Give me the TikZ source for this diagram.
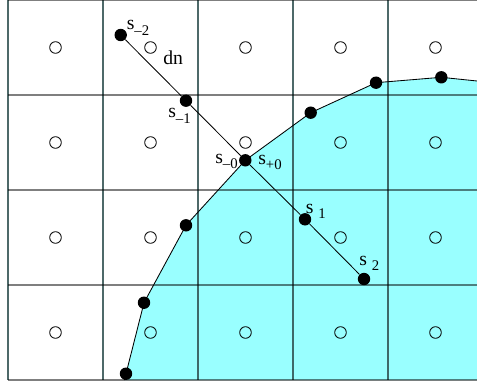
\documentclass[tikz,border=0pt]{standalone}
\usepackage{fontspec}
\setmainfont{Liberation Serif}
\definecolor{gridcol}{RGB}{47,79,79}
\definecolor{inside}{RGB}{153,255,255}
\newcommand{\lo}[1]{\raisebox{-0.3em}{\fontsize{10.5}{12}\selectfont #1}}
\begin{document}
\begin{tikzpicture}[x=0.25mm, y=-0.25mm,
  vline/.style={gridcol, opacity=0.85, line width=1pt},
  hline/.style={black, opacity=0.5, line width=1pt},
  cell/.style={circle, draw=black, fill=none, line width=0.6pt, inner sep=0pt, minimum size=2.9mm},
  sv/.style={circle, fill=black, inner sep=0pt, minimum size=3.1mm},
  bd/.style={black, line width=0.6pt},
  lab/.style={font=\fontsize{14}{16}\selectfont, inner sep=0pt, anchor=base west}]
\useasboundingbox (0,0) rectangle (477,383);
% boundary points
\coordinate (cbot) at (124.5,380);
\coordinate (c1) at (126,373.7);
\coordinate (c2) at (144,302.7);
\coordinate (c3) at (186,225.3);
\coordinate (c4) at (245.3,160.3);
\coordinate (c5) at (310.7,112.7);
\coordinate (c6) at (376,82.7);
\coordinate (c7) at (441.3,77.3);
\coordinate (cend) at (477,81);
\fill[inside] (cbot) -- (c1) -- (c2) -- (c3) -- (c4) -- (c5) -- (c6) -- (c7) -- (cend)
  -- (477,380) -- cycle;
% grid
\foreach \gx in {8,103,198,293,388}
  \draw[vline] (\gx,0) -- (\gx,380);
\foreach \gy in {0,95,190,285,380}
  \draw[hline] (8,\gy) -- (477,\gy);
\foreach \i in {0,...,4}
  \foreach \j in {0,...,3}
    \node[cell] (o\i\j) at ({55.5+95*\i},{47.5+95*\j}) {};
% boundary polygon
\draw[bd] (cbot) -- (c1) -- (c2) -- (c3) -- (c4) -- (c5) -- (c6) -- (c7) -- (cend);
\foreach \k in {1,...,7}
  \node[sv] (d\k) at (c\k) {};
% normal line
\node[sv] (sm2) at (120.7,35) {};
\node[sv] (sm1) at (186,100.7) {};
\node[sv] (sp1) at (305,219.3) {};
\node[sv] (sp2) at (364,279) {};
\draw[bd] (sm2) -- (sm1) -- (d4) -- (sp1) -- (sp2);
\node[lab] (lm2) at (126.5,30) {s\lo{–2}};
\node[lab] (ldn) at (163,65) {dn};
\node[lab] (lm1) at (168,118) {s\lo{–1}};
\node[lab] (lm0) at (215,163) {s\lo{–0}};
\node[lab] (lp0) at (258,164) {s\lo{+0}};
\node[lab] (lp1) at (305.5,213) {s \lo{1}};
\node[lab] (lp2) at (359,265) {s \lo{2}};
\end{tikzpicture}
\end{document}
